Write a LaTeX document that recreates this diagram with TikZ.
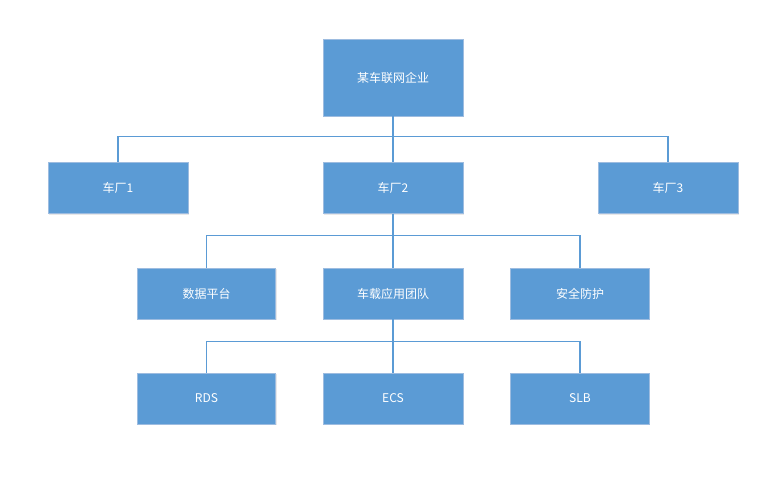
\documentclass[tikz,border=0pt]{standalone}
\usepackage{fontspec}
\newfontfamily\cjk{Noto Sans CJK SC}
\usetikzlibrary{shadows}
\definecolor{boxblue}{HTML}{5B9BD5}
\definecolor{boxedge}{HTML}{9DBCE0}
\tikzset{
  unit/.style={draw=boxedge, line width=0.6pt, fill=boxblue, text=white,
    font=\cjk\fontsize{9}{11}\selectfont, minimum width=105pt, minimum height=38.25pt,
    drop shadow={opacity=0.18, shadow xshift=0.8pt, shadow yshift=-0.8pt}},
  link/.style={draw=boxblue, line width=0.8pt}
}
\begin{document}
\begin{tikzpicture}[x=0.75pt, y=-0.75pt]

  \useasboundingbox (0,0) rectangle (777,479);
  \def\xl{118} \def\xm{393} \def\xr{668}
  \def\xa{206.5} \def\xb{580}

  \node[unit, minimum height=57.75pt] (corp) at (\xm,77.5) {某车联网企业};

  \node[unit] (f1) at (\xl,188) {车厂1};
  \node[unit] (f2) at (\xm,188) {车厂2};
  \node[unit] (f3) at (\xr,188) {车厂3};

  \node[unit, minimum width=104pt] (data) at (\xa,293.5) {数据平台};
  \node[unit] (team) at (\xm,293.5) {车载应用团队};
  \node[unit, minimum width=104pt] (safe) at (\xb,293.5) {安全防护};

  \node[unit, minimum width=104pt] (rds) at (\xa,398.5) {RDS};
  \node[unit] (ecs) at (\xm,398.5) {ECS};
  \node[unit, minimum width=104pt] (slb) at (\xb,398.5) {SLB};

  % tree lines
  \draw[link] (corp.south) -- ++(0,20) -| (f1.north);
  \draw[link] (corp.south) -- ++(0,20) -| (f3.north);
  \draw[link] (corp.south) -- (f2.north);

  \draw[link] (f2.south) -- ++(0,22) -| (data.north);
  \draw[link] (f2.south) -- ++(0,22) -| (safe.north);
  \draw[link] (f2.south) -- (team.north);

  \draw[link] (team.south) -- ++(0,22) -| (rds.north);
  \draw[link] (team.south) -- ++(0,22) -| (slb.north);
  \draw[link] (team.south) -- (ecs.north);

\end{tikzpicture}
\end{document}
